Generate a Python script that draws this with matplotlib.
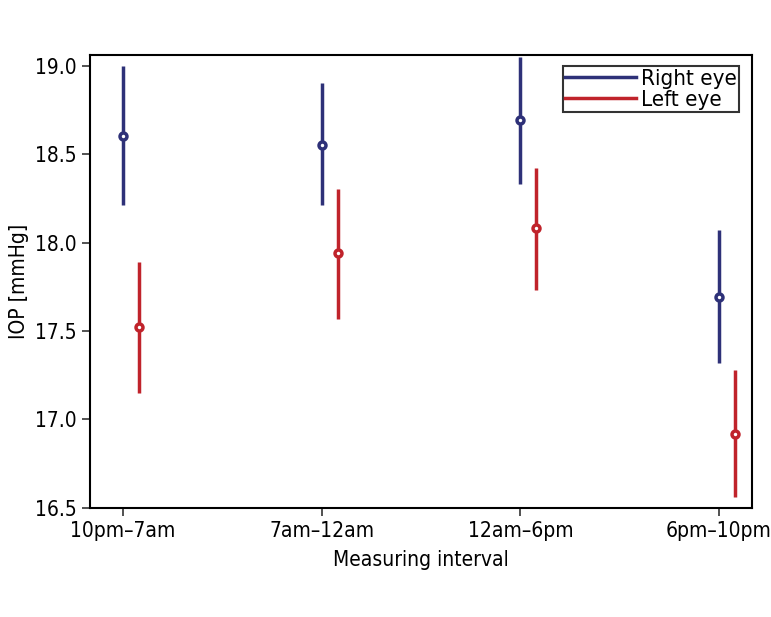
import numpy as np
import matplotlib.pyplot as plt

# condensed look, like the original
plt.rcParams['font.family'] = ['DejaVu Sans']
plt.rcParams['font.stretch'] = 'condensed'

intervals = ['10pm\u20137am', '7am\u201312am', '12am\u20136pm', '6pm\u201310pm']

right_mean = [18.60, 18.55, 18.69, 17.69]
right_low = [18.21, 18.21, 18.33, 17.32]
right_high = [19.00, 18.90, 19.05, 18.07]

left_mean = [17.52, 17.94, 18.08, 16.92]
left_low = [17.15, 17.57, 17.73, 16.56]
left_high = [17.89, 18.30, 18.42, 17.28]

blue = '#2e3178'
red = '#c0232b'

fig = plt.figure(figsize=(7.71, 6.17), dpi=100)
ax = fig.add_axes([0.1167, 0.1767, 0.8587, 0.7342])

x = np.arange(len(intervals))
rm = np.array(right_mean)
lm = np.array(left_mean)
ax.errorbar(x, rm, yerr=[rm - np.array(right_low), np.array(right_high) - rm],
            fmt='o', color=blue, ecolor=blue, elinewidth=2.5, capsize=0,
            markersize=5, mfc='white', mew=2.5, label='Right eye')
ax.errorbar(x + 0.08, lm, yerr=[lm - np.array(left_low), np.array(left_high) - lm],
            fmt='o', color=red, ecolor=red, elinewidth=2.5, capsize=0,
            markersize=5, mfc='white', mew=2.5, label='Left eye')

ax.set_xlim(-0.166, 3.166)
ax.set_ylim(16.5, 19.06)
ax.set_xticks(x)
ax.set_xticklabels(intervals)
ax.set_yticks([16.5, 17.0, 17.5, 18.0, 18.5, 19.0])
ax.set_yticklabels(['16.5', '17.0', '17.5', '18.0', '18.5', '19.0'])
ax.tick_params(labelsize=15, length=6, width=1.2, color='#333333')
for s in ax.spines.values():
    s.set_linewidth(1.5)
ax.set_xlabel('Measuring interval', fontsize=15, labelpad=6)
ax.set_ylabel('IOP [mmHg]', fontsize=15, labelpad=4)

h = [plt.Line2D([], [], color=blue, lw=2.5), plt.Line2D([], [], color=red, lw=2.5)]
leg = ax.legend(h, ['Right eye', 'Left eye'], loc='upper right', bbox_to_anchor=(0.98, 0.975),
                fontsize=16, frameon=True, fancybox=False, edgecolor='black', borderpad=0.1,
                labelspacing=0.05, handlelength=3.2, handletextpad=0.2, borderaxespad=0)
leg.get_frame().set_linewidth(1.5)

plt.savefig('out.png', dpi=100)
